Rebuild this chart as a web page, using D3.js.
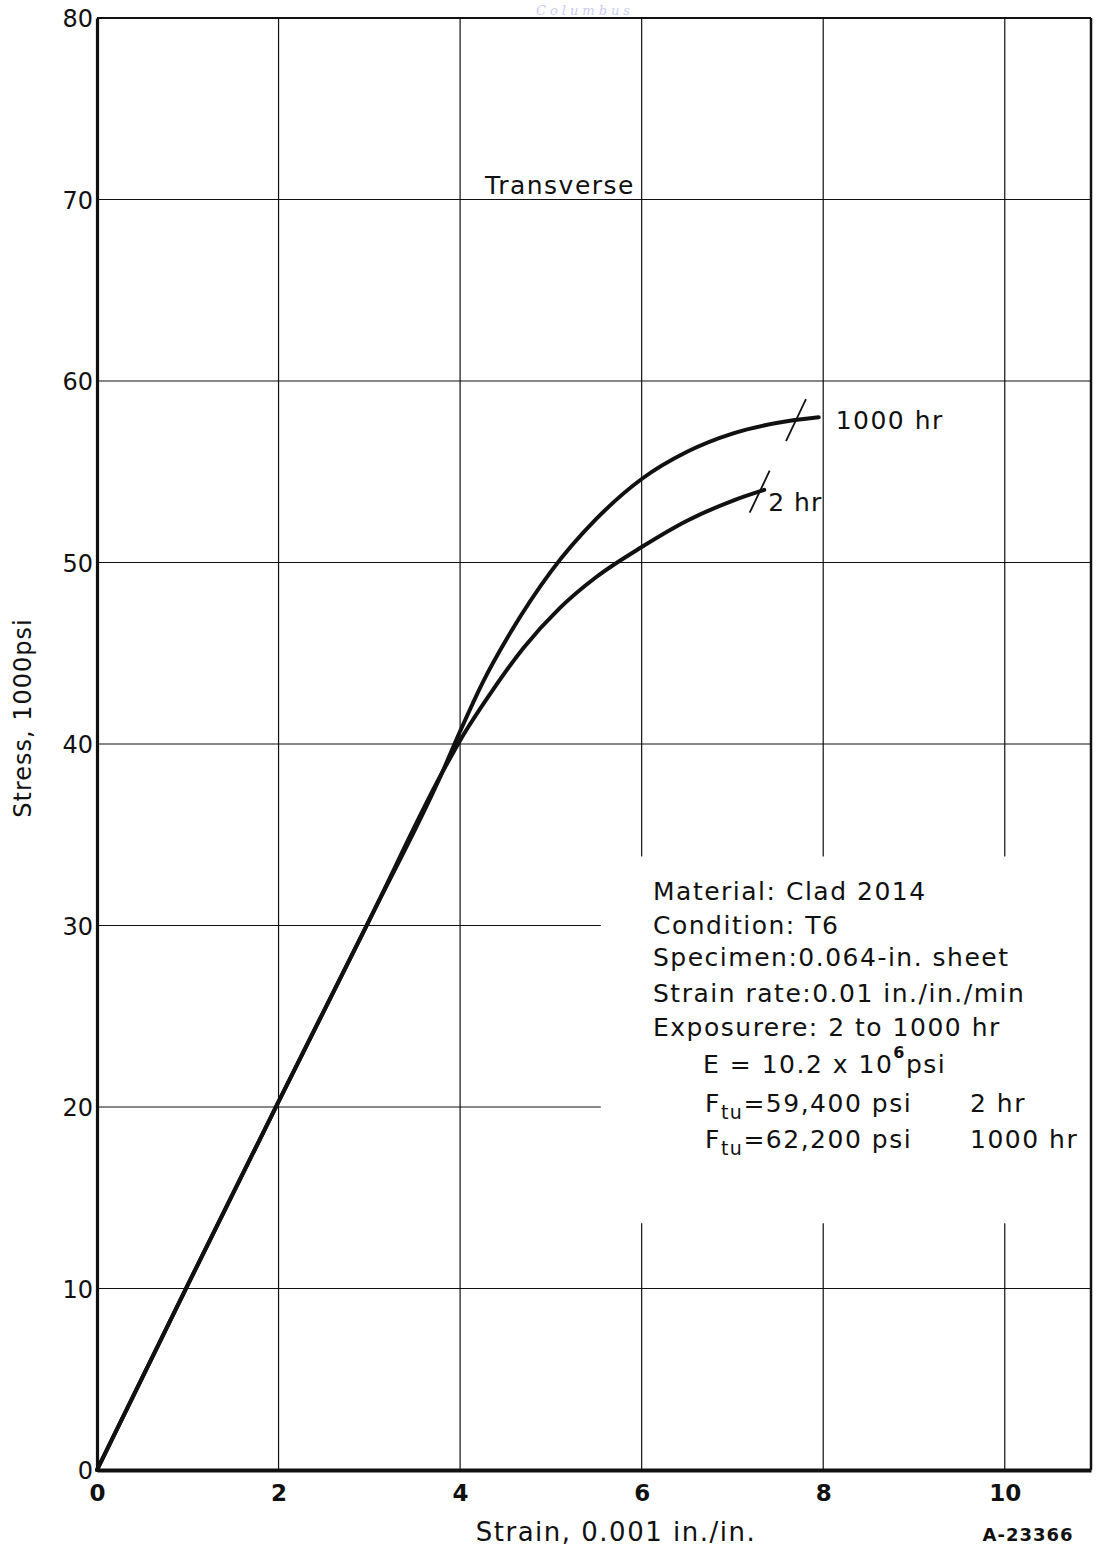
<!DOCTYPE html>
<html>
<head>
<meta charset="utf-8">
<script src="https://cdn.jsdelivr.net/npm/d3@7/dist/d3.min.js"></script>
<style>
  html, body { margin: 0; padding: 0; background: #fff; }
  svg { display: block; }
  text { font-family: "DejaVu Sans", sans-serif; fill: #111; }
</style>
</head>
<body>
<svg id="chart" width="1097" height="1551"></svg>
<script>
// Stress-strain curves, clad 2014-T6 sheet, transverse direction
const xTicks = [0, 2, 4, 6, 8, 10];
const xTickLabels = ["0", "2", "4", "6", "8", "10"];
const yTicks = [0, 10, 20, 30, 40, 50, 60, 70, 80];
const yTickLabels = ["0", "10", "20", "30", "40", "50", "60", "70", "80"];

// strain (0.001 in./in.) and stress (1000 psi)
const elasticStrain = [0, 1, 2, 3, 3.8];
const elasticStress = [0, 10.2, 20.3, 30.3, 38.4];

const hr1000Strain = [4.0, 4.25, 4.55, 5.0, 5.5, 6.0, 6.5, 7.0, 7.5, 7.95];
const hr1000Stress = [40.7, 43.4, 46.1, 49.5, 52.4, 54.6, 56.1, 57.1, 57.7, 58.0];

const hr2Strain = [4.0, 4.35, 4.7, 5.1, 5.5, 6.0, 6.5, 7.0, 7.35];
const hr2Stress = [40.2, 42.9, 45.3, 47.5, 49.2, 50.85, 52.3, 53.4, 54.0];

const seriesNames = ["1000 hr", "2 hr"];
// fracture marks (strain, stress)
const breakStrain = [7.70, 7.30];
const breakStress = [57.85, 53.9];

const noteLines = [
  "Material: Clad 2014",
  "Condition: T6",
  "Specimen:0.064-in. sheet",
  "Strain rate:0.01 in./in./min",
  "Exposurere: 2 to 1000 hr"
];

const svg = d3.select("#chart");
const x = d3.scaleLinear().domain([0, 10.95]).range([97, 1091]);
const y = d3.scaleLinear().domain([0, 80]).range([1470, 18]);

// faint library stamp at the top edge
svg.append("text")
  .attr("x", 585).attr("y", 15)
  .attr("text-anchor", "middle")
  .style("font-family", "DejaVu Serif")
  .style("font-style", "italic")
  .style("font-size", "13px")
  .style("letter-spacing", "4px")
  .style("fill", "#c9cdf3")
  .text("Columbus");

// grid; lines leave a clear area around the specimen note
const noteArea = { strainFrom: 5.55, stressLow: 13.6, stressHigh: 33.8 };
const grid = svg.append("g").attr("stroke", "#111").attr("stroke-width", 1.2);

yTicks.filter(v => v > 0 && v < 80).forEach(v => {
  const inNote = v > noteArea.stressLow && v < noteArea.stressHigh;
  grid.append("line")
    .attr("x1", x(0)).attr("x2", inNote ? x(noteArea.strainFrom) : x(10.95))
    .attr("y1", y(v)).attr("y2", y(v));
});
xTicks.filter(v => v > 0).forEach(v => {
  if (v > noteArea.strainFrom) {
    grid.append("line").attr("x1", x(v)).attr("x2", x(v))
      .attr("y1", y(80)).attr("y2", y(noteArea.stressHigh));
    grid.append("line").attr("x1", x(v)).attr("x2", x(v))
      .attr("y1", y(noteArea.stressLow)).attr("y2", y(0));
  } else {
    grid.append("line").attr("x1", x(v)).attr("x2", x(v))
      .attr("y1", y(80)).attr("y2", y(0));
  }
});

// frame
svg.append("line").attr("x1", x(0)).attr("x2", x(10.95)).attr("y1", y(80)).attr("y2", y(80))
  .attr("stroke", "#111").attr("stroke-width", 2.2);
svg.append("line").attr("x1", x(10.95)).attr("x2", x(10.95)).attr("y1", y(80)).attr("y2", y(0))
  .attr("stroke", "#111").attr("stroke-width", 2.5);

// axes
const yAxis = svg.append("g").attr("transform", `translate(${x(0)},0)`)
  .call(d3.axisLeft(y).tickValues(yTicks).tickFormat((d, i) => yTickLabels[i]).tickSize(0).tickPadding(4));
yAxis.select(".domain").attr("stroke", "#111").attr("stroke-width", 3.2);
yAxis.selectAll("text").style("font-size", "24px").style("fill", "#111")
  .attr("dy", "0.36em");

const xAxis = svg.append("g").attr("transform", `translate(0,${y(0)})`)
  .call(d3.axisBottom(x).tickValues(xTicks).tickFormat((d, i) => xTickLabels[i]).tickSize(0).tickPadding(15));
xAxis.select(".domain").attr("stroke", "#111").attr("stroke-width", 4);
xAxis.selectAll("text").style("font-size", "23px").style("font-weight", "bold").style("fill", "#111");

// axis titles
svg.append("text")
  .attr("transform", "translate(31,718) rotate(-90)")
  .attr("text-anchor", "middle")
  .style("font-size", "24px")
  .style("letter-spacing", "1px")
  .text("Stress, 1000psi");
svg.append("text")
  .attr("x", 616).attr("y", 1541)
  .attr("text-anchor", "middle")
  .style("font-size", "26px")
  .style("letter-spacing", "1.5px")
  .text("Strain, 0.001 in./in.");
svg.append("text")
  .attr("x", 1028).attr("y", 1541)
  .attr("text-anchor", "middle")
  .style("font-size", "18px").style("font-weight", "bold")
  .style("letter-spacing", "1px")
  .text("A-23366");

svg.append("text")
  .attr("x", 560).attr("y", 194)
  .attr("text-anchor", "middle")
  .style("font-size", "25px")
  .style("letter-spacing", "1.5px")
  .text("Transverse");

// curves
const toPoints = (sx, sy) => sx.map((v, i) => [v, sy[i]]);
const elastic = toPoints(elasticStrain, elasticStress);
const curves = [
  elastic.concat(toPoints(hr1000Strain, hr1000Stress)),
  elastic.concat(toPoints(hr2Strain, hr2Stress))
];
const line = d3.line().x(d => x(d[0])).y(d => y(d[1])).curve(d3.curveMonotoneX);
svg.append("g").selectAll("path").data(curves).join("path")
  .attr("d", line)
  .attr("fill", "none").attr("stroke", "#111").attr("stroke-width", 4)
  .attr("stroke-linejoin", "round").attr("stroke-linecap", "round");

// fracture marks
svg.append("g").selectAll("line").data(breakStrain).join("line")
  .attr("x1", (d, i) => x(d) - 10).attr("y1", (d, i) => y(breakStress[i]) + 21)
  .attr("x2", (d, i) => x(d) + 10).attr("y2", (d, i) => y(breakStress[i]) - 21)
  .attr("stroke", "#111").attr("stroke-width", 1.8);

// series labels at the curve ends
const endPts = curves.map(c => c[c.length - 1]);
svg.append("text").attr("x", x(endPts[0][0]) + 17).attr("y", y(endPts[0][1]) + 12)
  .style("font-size", "25px").style("letter-spacing", "1.5px").text(seriesNames[0]);
svg.append("text").attr("x", x(endPts[1][0]) + 4).attr("y", y(endPts[1][1]) + 21)
  .style("font-size", "25px").style("letter-spacing", "1px").text(seriesNames[1]);

// specimen note
const note = svg.append("g").style("font-size", "25px").style("letter-spacing", "1.5px");
const noteBase = [900, 934, 966, 1002, 1036];
noteLines.forEach((t, i) => {
  note.append("text").attr("x", 653).attr("y", noteBase[i]).text(t);
});
const eLine = note.append("text").attr("x", 703).attr("y", 1073);
eLine.append("tspan").text("E = 10.2 x 10");
eLine.append("tspan").attr("dy", -15).style("font-size", "16px").style("font-weight", "bold").text("6");
eLine.append("tspan").attr("dy", 15).text("psi");

const ftu = [["59,400 psi", "2 hr", 1112], ["62,200 psi", "1000 hr", 1148]];
ftu.forEach(([val, dur, base]) => {
  const t = note.append("text").attr("x", 705).attr("y", base);
  t.append("tspan").text("F");
  t.append("tspan").attr("dy", 7).style("font-size", "19px").text("tu");
  t.append("tspan").attr("dy", -7).text("=" + val);
  note.append("text").attr("x", 970).attr("y", base).text(dur);
});
</script>
</body>
</html>
